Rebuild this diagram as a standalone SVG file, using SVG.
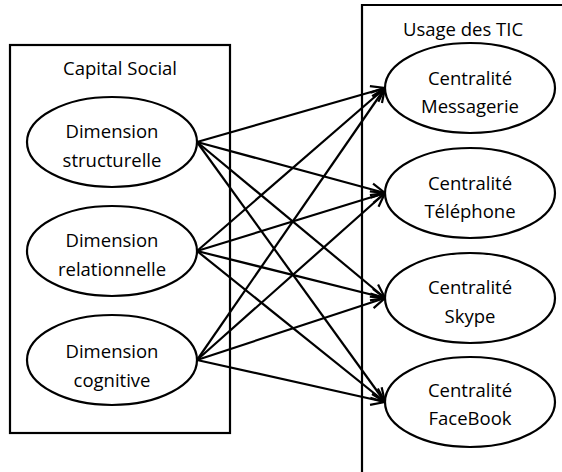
<svg xmlns="http://www.w3.org/2000/svg" width="562" height="472" viewBox="0 0 562 472">
<defs>
<style>
.box{fill:none;stroke:#000;stroke-width:2.2}
.ell{fill:#fff;stroke:#000;stroke-width:2.2}
.t{font-family:"Open Sans","Liberation Sans",Arial,sans-serif;font-size:18.5px;fill:#000;text-anchor:middle}
.c{stroke:#000;stroke-width:2.2;fill:none;marker-end:url(#ah)}
</style>
<marker id="ah" markerUnits="userSpaceOnUse" markerWidth="20" markerHeight="20" refX="0" refY="0" viewBox="-16 -10 20 20" orient="auto">
<path d="M-14,-6 L0,0 L-14,6" fill="none" stroke="#000" stroke-width="2.2"/>
</marker>
</defs>
<rect width="562" height="472" fill="#fff"/>
<g id="capital-social">
<rect class="box" x="10" y="45" width="220" height="388"/>
<text class="t" x="120" y="75">Capital Social</text>
</g>
<g id="usage-tic">
<path class="box" d="M362,475 L362,5 L565,5"/>
<text class="t" x="463" y="36">Usage des TIC</text>
</g>
<g id="connectors">
<line class="c" x1="197" y1="142" x2="385" y2="88"/>
<line class="c" x1="197" y1="142" x2="385" y2="193"/>
<line class="c" x1="197" y1="142" x2="385" y2="298"/>
<line class="c" x1="197" y1="142" x2="385" y2="402"/>
<line class="c" x1="197" y1="251" x2="385" y2="88"/>
<line class="c" x1="197" y1="251" x2="385" y2="193"/>
<line class="c" x1="197" y1="251" x2="385" y2="298"/>
<line class="c" x1="197" y1="251" x2="385" y2="402"/>
<line class="c" x1="197" y1="360" x2="385" y2="88"/>
<line class="c" x1="197" y1="360" x2="385" y2="193"/>
<line class="c" x1="197" y1="360" x2="385" y2="298"/>
<line class="c" x1="197" y1="360" x2="385" y2="402"/>
</g>
<g id="dim-structurelle">
<ellipse class="ell" cx="112" cy="142" rx="85" ry="45"/>
<text class="t" x="112" y="138">Dimension</text>
<text class="t" x="112" y="167">structurelle</text>
</g>
<g id="dim-relationnelle">
<ellipse class="ell" cx="112" cy="251" rx="85" ry="45"/>
<text class="t" x="112" y="247">Dimension</text>
<text class="t" x="112" y="276">relationnelle</text>
</g>
<g id="dim-cognitive">
<ellipse class="ell" cx="112" cy="360" rx="85" ry="45"/>
<text class="t" x="112" y="358">Dimension</text>
<text class="t" x="112" y="387">cognitive</text>
</g>
<g id="centralite-messagerie">
<ellipse class="ell" cx="470" cy="88" rx="85" ry="45"/>
<text class="t" x="470" y="85">Centralité</text>
<text class="t" x="470" y="113">Messagerie</text>
</g>
<g id="centralite-telephone">
<ellipse class="ell" cx="470" cy="193" rx="85" ry="45"/>
<text class="t" x="470" y="190">Centralité</text>
<text class="t" x="470" y="218">Téléphone</text>
</g>
<g id="centralite-skype">
<ellipse class="ell" cx="470" cy="298" rx="85" ry="45"/>
<text class="t" x="470" y="294">Centralité</text>
<text class="t" x="470" y="323">Skype</text>
</g>
<g id="centralite-facebook">
<ellipse class="ell" cx="470" cy="402" rx="85" ry="45"/>
<text class="t" x="470" y="397">Centralité</text>
<text class="t" x="470" y="425">FaceBook</text>
</g>
</svg>
